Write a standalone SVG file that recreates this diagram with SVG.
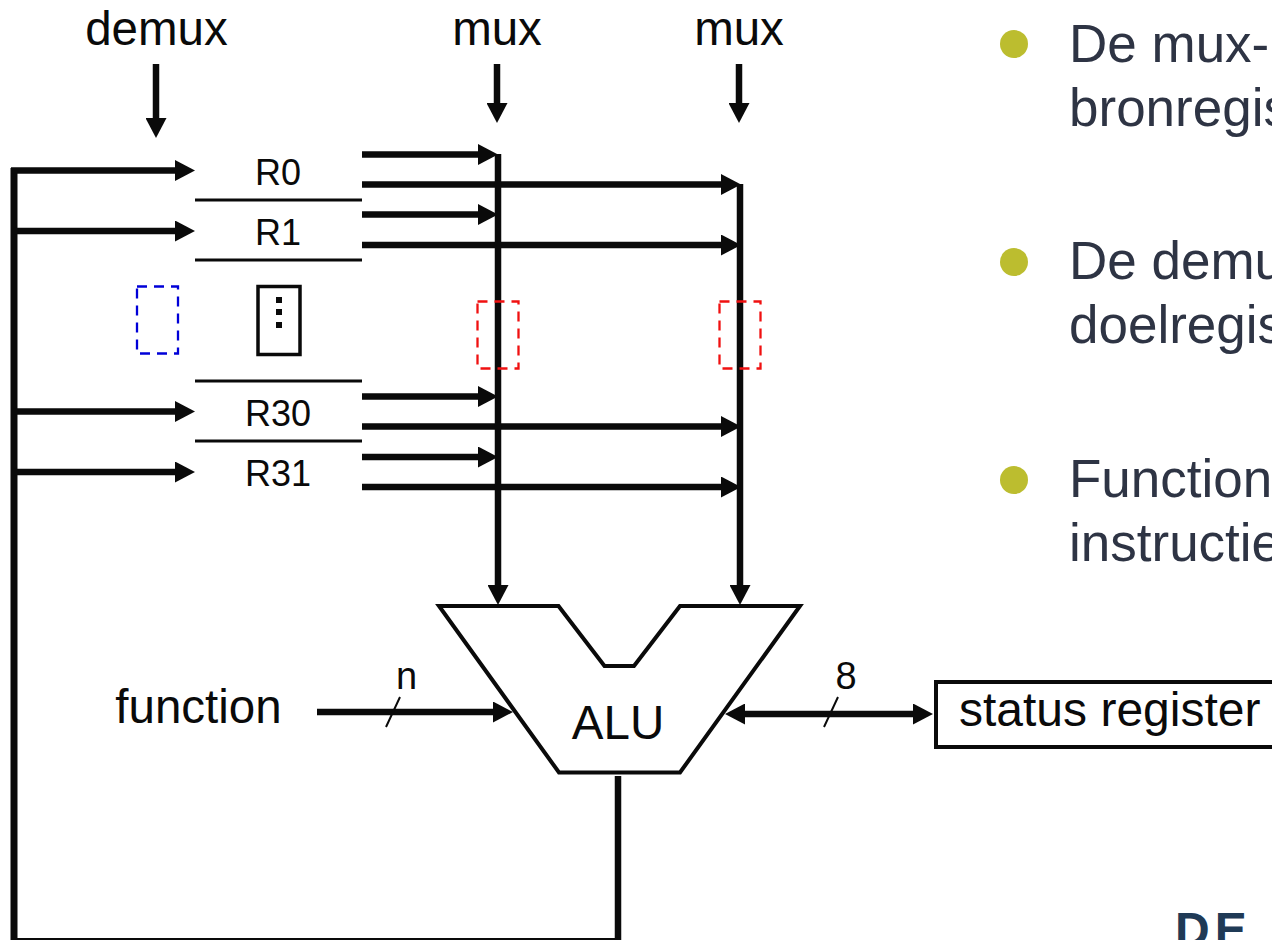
<svg xmlns="http://www.w3.org/2000/svg" width="1272" height="940" viewBox="0 0 1272 940">
<style>
text{font-family:"Liberation Sans",Arial,sans-serif;fill:#0a0a0a}
.l{font-size:47.5px;text-anchor:middle}
.r{font-size:36px;text-anchor:middle}
.b{font-size:53px;fill:#2e3444}
.w{stroke:#0a0a0a;stroke-width:6.500;fill:none}
.t{stroke:#0a0a0a;stroke-width:3;fill:none}
.a{stroke:#0a0a0a;stroke-width:6.500;fill:none;marker-end:url(#h)}
.d{stroke-width:2.300;fill:none;stroke-dasharray:10 7}
.o{fill:#bcbd2f}
</style>
<defs>
<marker id="h" markerUnits="userSpaceOnUse" markerWidth="20" markerHeight="21" refX="1" refY="10.5" orient="auto"><path d="M0 0L20 10.5L0 21Z" fill="#0a0a0a"/></marker>
<marker id="hs" markerUnits="userSpaceOnUse" markerWidth="20" markerHeight="21" refX="1" refY="10.5" orient="auto-start-reverse"><path d="M0 0L20 10.5L0 21Z" fill="#0a0a0a"/></marker>
</defs>
<g id="connectors">
<path class="w" style="stroke-width:7" d="M14 168V940"/>
<path class="w" style="stroke-width:4" d="M14 940H620"/>
<path class="w" d="M618 776V940"/>
<path class="a" d="M11 170.500H176"/>
<path class="a" d="M14 231H176"/>
<path class="a" d="M14 411.500H176"/>
<path class="a" d="M14 472H176"/>
<path class="a" d="M156 64V119"/>
<path class="a" d="M497 64V104"/>
<path class="a" d="M739 64V104"/>
<path class="a" d="M362 154.500H479"/>
<path class="a" d="M362 184.500H722"/>
<path class="a" d="M362 214.500H479"/>
<path class="a" d="M362 245H722"/>
<path class="a" d="M362 396.500H479"/>
<path class="a" d="M362 426.500H722"/>
<path class="a" d="M362 457H479"/>
<path class="a" d="M362 487H722"/>
<path class="a" d="M498 154V586"/>
<path class="a" d="M740 184V586"/>
<path class="a" d="M317 712H494"/>
<path d="M744 714H914" class="w" style="marker-start:url(#hs);marker-end:url(#hs)"/>
<path class="t" style="stroke-width:2" d="M386 727L400 697M824 727L838 697"/>
</g>
<g id="registers">
<path class="t" d="M195 200H362M195 260H362M195 381H362M195 441H362"/>
<text class="r" x="278" y="185">R0</text>
<text class="r" x="278" y="245">R1</text>
<text class="r" x="278" y="426">R30</text>
<text class="r" x="278" y="486">R31</text>
</g>
<g id="dots">
<rect x="258" y="286.500" width="42" height="68" fill="none" stroke="#0a0a0a" stroke-width="3.500"/>
<path fill="#0a0a0a" d="M276 297h6v6h-6zM276 309h6v6h-6zM276 322h6v6h-6z"/>
</g>
<g id="selectors">
<rect class="d" stroke="#0000d8" x="137" y="286.500" width="41" height="67"/>
<rect class="d" stroke="#f01010" x="477.500" y="301.500" width="41" height="67"/>
<rect class="d" stroke="#f01010" x="719.500" y="301.500" width="41" height="67"/>
</g>
<g id="alu">
<path fill="none" stroke="#0a0a0a" stroke-width="4" d="M439 606H558.500L604.500 666H634L680 606H800L680 772.500H559Z"/>
<text x="618" y="739" class="l">ALU</text>
</g>
<g id="status-register">
<rect x="936" y="682" width="340" height="65" fill="#fff" stroke="#0a0a0a" stroke-width="4"/>
<text x="959" y="726" style="font-size:48px">status register</text>
</g>
<g id="labels">
<text class="l" x="156.500" y="45">demux</text>
<text class="l" x="497" y="45">mux</text>
<text class="l" x="739" y="45">mux</text>
<text x="198.500" y="723" class="l">function</text>
<text x="406.500" y="689" style="font-size:38px;text-anchor:middle">n</text>
<text x="846" y="689" style="font-size:38px;text-anchor:middle">8</text>
</g>
<g id="bullets">
<circle class="o" cx="1014" cy="44" r="14"/>
<circle class="o" cx="1014" cy="262" r="14"/>
<circle class="o" cx="1014" cy="480" r="14"/>
<text class="b" x="1069" y="62">De mux-</text>
<text class="b" x="1069" y="126">bronregis</text>
<text class="b" x="1069" y="279">De demu</text>
<text class="b" x="1069" y="343">doelregis</text>
<text class="b" x="1069" y="497">Function</text>
<text class="b" x="1069" y="561">instructie</text>
</g>
<g id="logo">
<text x="1175" y="946" style="font-size:48px;font-weight:bold;fill:#1f3a56;letter-spacing:5px">DE</text>
</g>
</svg>
